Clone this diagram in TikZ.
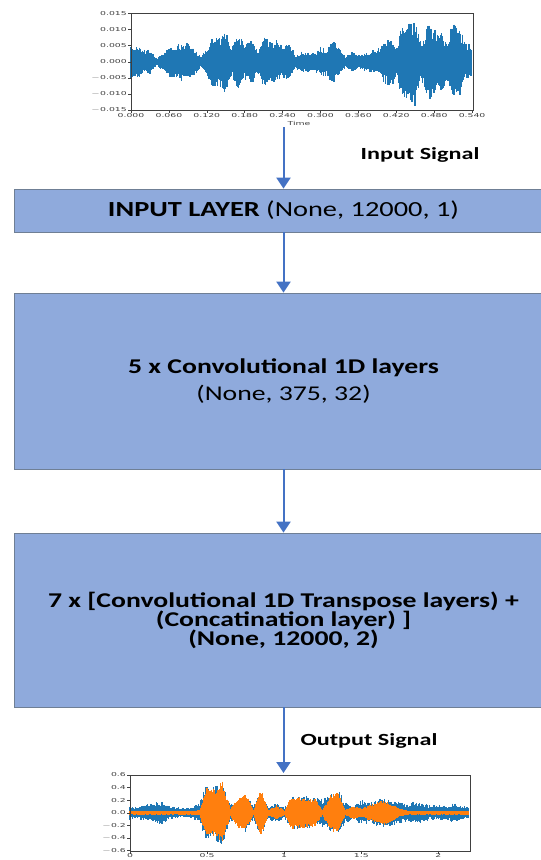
\documentclass[tikz,border=0pt]{standalone}
\usepackage{fontspec}
\setmainfont{Carlito}
\newfontfamily\tickfont{DejaVu Sans}
\usetikzlibrary{arrows.meta}
\definecolor{boxfill}{HTML}{8FAADC}
\definecolor{boxline}{HTML}{6F7F95}
\definecolor{arrowc}{HTML}{4472C4}
\definecolor{mplblue}{HTML}{1F77B4}
\definecolor{mplorange}{HTML}{FF7F0E}
\newcommand{\tk}[1]{\scalebox{1.55}[0.9]{#1}}
\newcommand{\sx}[1]{\scalebox{1.32}[1]{#1}}
\newcommand{\sy}[1]{\scalebox{1.42}[1]{#1}}
\begin{document}
\begin{tikzpicture}[x=1pt,y=-1pt,
  layerbox/.style={draw=boxline, line width=0.7pt, fill=boxfill, minimum width=539pt, inner sep=0pt, align=center},
  flow/.style={draw=arrowc, line width=2pt, -{Triangle[width=14pt,length=11pt]}},
  axframe/.style={draw=black!75, line width=0.6pt, inner sep=0pt},
  ticklab/.style={font=\tickfont\fontsize{6}{6.5}\selectfont, text=black!75, inner sep=0.5pt},
  sig/.style={font=\bfseries\fontsize{17}{20}\selectfont}]
\useasboundingbox (0,0) rectangle (541,860);

% ---------- top plot (input waveform) ----------
\pgfmathsetseed{11}
\foreach \vb [count=\kk from 0, remember=\vb as \vp (initially 5)] in
 {5,5,3.5,4,1,2.5,4.5,5,6,5.5,4,1.5,4,8,8,9.5,4,9,5,7.5,3.5,8,6,6.5,5,6,2,3,3,2.5,4.5,4,6.5,4,1.5,3,2,2.5,3,4,6,8,5,12,12,14,5,12,10,10,6,12,11,6,5}{
  \ifnum\kk>0
   \foreach \j in {0,...,5}{
    \pgfmathsetmacro\xx{131+(\kk-1+\j/6)*6.315}
    \pgfmathsetmacro\am{(\vp+(\vb-\vp)*\j/6)*3.23}
    \pgfmathsetmacro\yu{62-\am*(0.6+0.4*rnd)-0.8}
    \pgfmathsetmacro\yl{62+\am*(0.6+0.4*rnd)+0.8}
    \draw[mplblue,line width=1.45pt] (\xx,\yu) -- (\xx,\yl);
   }
  \fi
}
\node[axframe, minimum width=342pt, minimum height=97pt, anchor=north west] (plotA) at (131,13) {};
\foreach \lab [count=\i from 0] in {0.015,0.010,0.005,0.000,\llap{$-$}0.005,\llap{$-$}0.010,\llap{$-$}0.015}{
  \pgfmathsetmacro\yy{13.5+\i*16.1}
  \draw[black!75, line width=0.5pt] (131,\yy) -- (128,\yy);
  \node[ticklab, anchor=east] (ya\i) at (127.5,\yy) {\tk{\lab}};
}
\foreach \lab [count=\i from 0] in {0.000,0.060,0.120,0.180,0.240,0.300,0.360,0.420,0.480,0.540}{
  \pgfmathsetmacro\xx{131+\i*37.9}
  \draw[black!75, line width=0.5pt] (\xx,110) -- (\xx,113);
  \node[ticklab, anchor=north] (xa\i) at (\xx,112.5) {\tk{\lab}};
}
\node[ticklab] (timeA) at (299,123) {\tk{Time}};

% ---------- layer boxes ----------
\node[layerbox, minimum height=43pt, font=\fontsize{21.5}{26}\selectfont] (inl) at (283.5,210.5)
  {\sx{\textbf{INPUT LAYER} (None, 12000, 1)}};
\node[layerbox, minimum height=176pt, font=\fontsize{21}{27}\selectfont] (conv) at (283.5,381)
  {\sx{\textbf{5 x Convolutional 1D layers}}\\\sx{(None, 375, 32)}};
\node[layerbox, minimum height=174pt, font=\bfseries\fontsize{21}{19}\selectfont] (tconv) at (283.5,620)
  {\sx{7 x [Convolutional 1D Transpose layers) +}\\\sx{(Concatination layer) ]}\\\sx{(None, 12000, 2)}};

% ---------- labels ----------
\node[sig] (insig) at (420,155) {\sy{Input Signal}};
\node[sig] (outsig) at (369,741) {\sy{Output Signal}};

% ---------- connectors ----------
\coordinate (a0) at (283.5,127);
\coordinate (a4) at (283.5,773);
\draw[flow] (a0) -- (inl.north);
\draw[flow] (inl.south) -- (conv.north);
\draw[flow] (conv.south) -- (tconv.north);
\draw[flow] (tconv.south) -- (a4);

% ---------- bottom plot (output waveform) ----------
\pgfmathsetseed{5}
\foreach \vb [count=\kk from 0, remember=\vb as \vp (initially 1)] in
 {1,0.8,1.2,1.4,1.8,1,0.8,0.6,0.8,1.5,4.5,4,5.5,1.5,1,3,1,3.5,1,1.5,0.8,2.5,2.5,2.5,2.2,2.2,3,3.5,1.5,1,2,1.5,2,2.2,2,1.6,1.2,1.8,1.5,1,1.2,1,1.5,1,0.8}{
  \ifnum\kk>0
   \foreach \j in {0,...,6}{
    \pgfmathsetmacro\xx{130+(\kk-1+\j/7)*7.71}
    \pgfmathsetmacro\am{(\vp+(\vb-\vp)*\j/7)*6.3}
    \pgfmathsetmacro\yu{812.7-\am*(0.55+0.45*rnd)-0.8}
    \pgfmathsetmacro\yl{812.7+\am*(0.55+0.45*rnd)+0.8}
    \draw[mplblue,line width=1.3pt] (\xx,\yu) -- (\xx,\yl);
   }
  \fi
}
\foreach \vb [count=\kk from 0, remember=\vb as \vp (initially 0.15)] in
 {0.15,0.15,0.15,0.15,0.15,0.15,0.15,0.15,0.15,0.3,4,3.5,5,0.5,2.2,2.8,0.3,3.5,0.3,1,0.2,2.5,2.3,2.2,2,0.3,2.8,3,0.3,1,0.5,1,1.5,1.8,1.2,0.5,0.15,0.15,0.15,0.15,0.15,0.15,0.15,0.15,0.15}{
  \ifnum\kk>0
   \foreach \j in {0,...,6}{
    \pgfmathsetmacro\xx{130+(\kk-1+\j/7)*7.71}
    \pgfmathsetmacro\am{(\vp+(\vb-\vp)*\j/7)*6.3}
    \pgfmathsetmacro\yu{812.7-\am*(0.75+0.25*rnd)-1}
    \pgfmathsetmacro\yl{812.7+\am*(0.75+0.25*rnd)+1}
    \draw[mplorange,line width=1.3pt] (\xx,\yu) -- (\xx,\yl);
   }
  \fi
}
\node[axframe, minimum width=340pt, minimum height=75.5pt, anchor=north west] (plotB) at (130,775) {};
\foreach \lab [count=\i from 0] in {0.6,0.4,0.2,0.0,\llap{$-$}0.2,\llap{$-$}0.4,\llap{$-$}0.6}{
  \pgfmathsetmacro\yy{775+\i*12.6}
  \draw[black!75, line width=0.5pt] (130,\yy) -- (127,\yy);
  \node[ticklab, anchor=east] (yb\i) at (126.5,\yy) {\tk{\lab}};
}
\foreach \lab [count=\i from 0] in {0,0.5,1,1.5,2}{
  \pgfmathsetmacro\xx{130+\i*77.1}
  \draw[black!75, line width=0.5pt] (\xx,850.5) -- (\xx,853.5);
  \node[ticklab, anchor=north] (xb\i) at (\xx,853) {\tk{\lab}};
}
\end{tikzpicture}
\end{document}
